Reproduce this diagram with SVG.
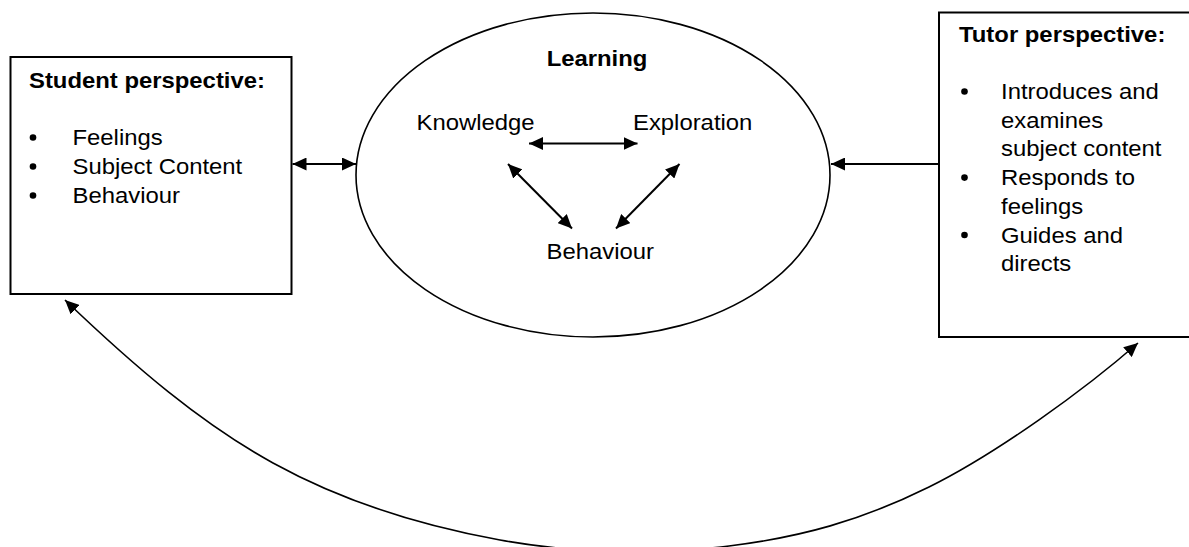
<svg xmlns="http://www.w3.org/2000/svg" width="1189" height="547" viewBox="0 0 1189 547">
  <style>
    .box { fill: #fff; stroke: #000; stroke-width: 2; }
    .ell { fill: #fff; stroke: #000; stroke-width: 1.6; }
    text { font-family: "Liberation Sans", Arial, sans-serif; font-size: 22px; fill: #000; }
    .b { font-weight: bold; }
    .bul { fill: #000; }
    .con { fill: none; stroke: #000; stroke-width: 2; }
    .curve { fill: none; stroke: #000; stroke-width: 1.6; }
  </style>
  <defs>
    <marker id="ah" markerUnits="userSpaceOnUse" viewBox="0 0 14 13" markerWidth="14" markerHeight="13" refX="14" refY="6.5" orient="auto-start-reverse">
      <path d="M0,0 L14,6.5 L0,13 z" fill="#000"/>
    </marker>
  </defs>
  <rect width="1189" height="547" fill="#fff"/>

  <g id="student">
    <rect class="box" x="10.5" y="57" width="281" height="237"/>
    <text class="b" transform="translate(29,88) scale(1.085,1)">Student perspective:</text>
    <circle class="bul" cx="33" cy="137.5" r="3.3"/>
    <text transform="translate(72.5,145) scale(1.085,1)">Feelings</text>
    <circle class="bul" cx="33" cy="166.5" r="3.3"/>
    <text transform="translate(72.5,174) scale(1.085,1)">Subject Content</text>
    <circle class="bul" cx="33" cy="195.5" r="3.3"/>
    <text transform="translate(72.5,203) scale(1.085,1)">Behaviour</text>
  </g>

  <g id="learning">
    <ellipse class="ell" cx="593" cy="175" rx="237" ry="162"/>
    <text class="b" text-anchor="middle" transform="translate(597,66) scale(1.085,1)">Learning</text>
  </g>
  <g id="knowledge">
    <text transform="translate(416.5,130) scale(1.085,1)">Knowledge</text>
  </g>
  <g id="exploration">
    <text transform="translate(633,130) scale(1.085,1)">Exploration</text>
  </g>
  <g id="behaviour">
    <text transform="translate(546.5,259) scale(1.085,1)">Behaviour</text>
  </g>

  <g id="tutor">
    <rect class="box" x="939" y="12.5" width="260" height="324.5"/>
    <text class="b" transform="translate(959,42) scale(1.085,1)">Tutor perspective:</text>
    <circle class="bul" cx="964.5" cy="91.5" r="3.3"/>
    <text transform="translate(1001,99) scale(1.085,1)">Introduces and</text>
    <text transform="translate(1001,127.7) scale(1.085,1)">examines</text>
    <text transform="translate(1001,156.4) scale(1.085,1)">subject content</text>
    <circle class="bul" cx="964.5" cy="177.6" r="3.3"/>
    <text transform="translate(1001,185.1) scale(1.085,1)">Responds to</text>
    <text transform="translate(1001,213.8) scale(1.085,1)">feelings</text>
    <circle class="bul" cx="964.5" cy="235" r="3.3"/>
    <text transform="translate(1001,242.5) scale(1.085,1)">Guides and</text>
    <text transform="translate(1001,271.2) scale(1.085,1)">directs</text>
  </g>

  <g id="connectors">
    <line class="con" x1="292.5" y1="164" x2="356" y2="164" marker-start="url(#ah)" marker-end="url(#ah)"/>
    <line class="con" x1="939" y1="164" x2="831" y2="164" marker-end="url(#ah)"/>
    <line class="con" x1="529" y1="143.5" x2="637.5" y2="143.5" marker-start="url(#ah)" marker-end="url(#ah)"/>
    <line class="con" x1="508" y1="164" x2="572" y2="228.5" marker-start="url(#ah)" marker-end="url(#ah)"/>
    <line class="con" x1="679.5" y1="164" x2="616" y2="228.5" marker-start="url(#ah)" marker-end="url(#ah)"/>
    <path class="curve" d="M65,300 C135,367 200.5,423 273,463 C345.5,503 424,526.2 500,540 C576,553.8 657.5,554.8 729,546 C800.5,537.2 860.8,520.8 929,487 C997.2,453.2 1085.5,389 1138,343" marker-start="url(#ah)" marker-end="url(#ah)"/>
  </g>
</svg>
